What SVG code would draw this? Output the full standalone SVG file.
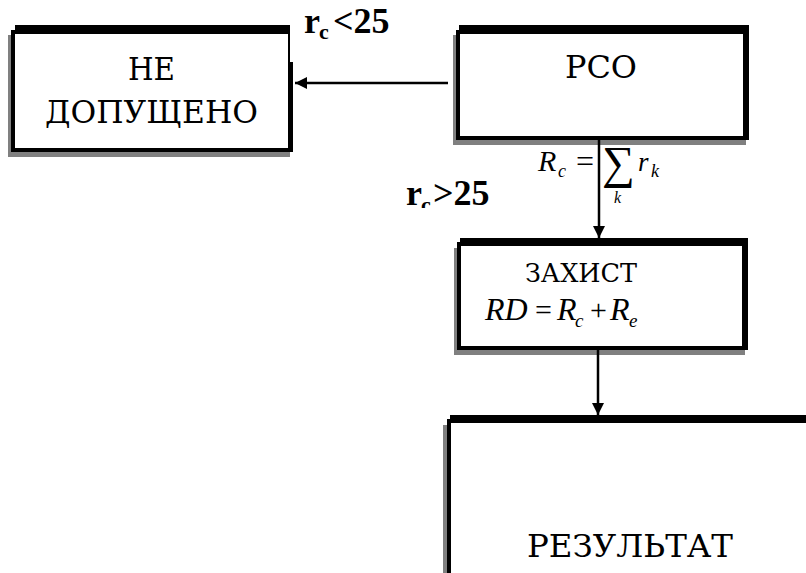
<svg xmlns="http://www.w3.org/2000/svg" width="806" height="573" viewBox="0 0 806 573">
<style>
  .sh { fill: #808080; }
  .bk { fill: #000; }
  .wh { fill: #fff; }
  .t { font-family: "DejaVu Serif Condensed", "DejaVu Serif", serif; fill: #000; }
  .lbl { font-family: "Liberation Serif", "Times New Roman", serif; font-weight: bold; fill: #000; }
  .m { font-family: "Liberation Serif", "Times New Roman", serif; font-style: italic; fill: #000; }
  .mn { font-family: "Liberation Serif", "DejaVu Serif", serif; fill: #000; }
  .ln { stroke: #000; stroke-width: 2.5; fill: none; }
</style>
<defs>
  <marker id="ah" viewBox="0 0 12 12" refX="12" refY="6" markerWidth="12" markerHeight="12" markerUnits="userSpaceOnUse" orient="auto">
    <path d="M0,0 L12,6 L0,12 Z" fill="#000"/>
  </marker>
  <clipPath id="clipR"><rect x="370" y="170" width="140" height="38"/></clipPath>
</defs>
<rect width="806" height="573" fill="#fff"/>

<g id="node-ne">
  <rect class="sh" x="8" y="35" width="282" height="122"/>
  <rect class="wh" x="13" y="30" width="277" height="120"/>
  <rect class="bk" x="15" y="25" width="275" height="9"/>
  <rect class="bk" x="11" y="30" width="4" height="122"/>
  <rect class="bk" x="11" y="148" width="282" height="4"/>
  <rect class="bk" x="288" y="25" width="2" height="40"/>
  <rect class="bk" x="288" y="62" width="5" height="90"/>
  <text class="t" x="128" y="80" font-size="31" textLength="47" lengthAdjust="spacingAndGlyphs">НЕ</text>
  <text class="t" x="45" y="123" font-size="31" textLength="213" lengthAdjust="spacingAndGlyphs">ДОПУЩЕНО</text>
</g>

<g id="node-rco">
  <rect class="sh" x="453" y="35" width="293" height="110"/>
  <rect class="wh" x="458" y="30" width="288" height="108"/>
  <rect class="bk" x="459" y="25" width="290" height="9"/>
  <rect class="bk" x="456" y="30" width="4" height="110"/>
  <rect class="bk" x="456" y="136" width="293" height="4"/>
  <rect class="bk" x="743" y="25" width="6" height="115"/>
  <text class="t" x="565" y="78" font-size="31" textLength="72" lengthAdjust="spacingAndGlyphs">РСО</text>
</g>

<g id="node-zaxist">
  <rect class="sh" x="454" y="248" width="291" height="107"/>
  <rect class="wh" x="459" y="242" width="286" height="106"/>
  <rect class="bk" x="460" y="238" width="288" height="8"/>
  <rect class="bk" x="457" y="242" width="4" height="108"/>
  <rect class="bk" x="457" y="346" width="291" height="4"/>
  <rect class="bk" x="742" y="238" width="6" height="112"/>
  <text class="t" x="525" y="282" font-size="26" textLength="112" lengthAdjust="spacingAndGlyphs">ЗАХИСТ</text>
  <text class="m" x="485" y="320" font-size="32">RD</text>
  <text class="mn" x="535" y="320" font-size="30">=</text>
  <text class="m" x="557" y="320" font-size="32">R</text>
  <text class="m" x="575" y="327" font-size="19">c</text>
  <text class="mn" x="590" y="320" font-size="30">+</text>
  <text class="m" x="610" y="320" font-size="32">R</text>
  <text class="m" x="629" y="327" font-size="19">e</text>
</g>

<g id="node-result">
  <rect class="sh" x="443" y="425" width="370" height="160"/>
  <rect class="wh" x="449" y="419" width="370" height="160"/>
  <rect class="bk" x="450" y="415" width="370" height="8"/>
  <rect class="bk" x="447" y="419" width="4" height="160"/>
  <text class="t" x="527" y="557" font-size="32" textLength="206" lengthAdjust="spacingAndGlyphs">РЕЗУЛЬТАТ</text>
</g>

<g id="connectors">
  <line class="ln" x1="448" y1="83" x2="295" y2="83" marker-end="url(#ah)"/>
  <line class="ln" x1="599" y1="140" x2="599" y2="238" marker-end="url(#ah)"/>
  <line class="ln" x1="598" y1="350" x2="598" y2="415" marker-end="url(#ah)"/>
</g>

<g id="labels">
  <text class="lbl" x="304" y="33" font-size="36">r</text>
  <text class="lbl" x="319" y="39" font-size="22">c</text>
  <text class="lbl" x="333" y="33" font-size="36">&lt;25</text>
  <g clip-path="url(#clipR)">
    <text class="lbl" x="406" y="205" font-size="36">r</text>
    <text class="lbl" x="421" y="212" font-size="22">c</text>
    <text class="lbl" x="433" y="205" font-size="36">&gt;25</text>
  </g>
  <text class="m" x="538" y="171" font-size="30">R</text>
  <text class="m" x="558" y="177" font-size="18">c</text>
  <text class="mn" x="576" y="172" font-size="32">=</text>
  <text class="mn" x="602" y="178" font-size="46">∑</text>
  <text class="m" x="614" y="203" font-size="16">k</text>
  <text class="m" x="638" y="171" font-size="27">r</text>
  <text class="m" x="651" y="177" font-size="18">k</text>
</g>
</svg>
